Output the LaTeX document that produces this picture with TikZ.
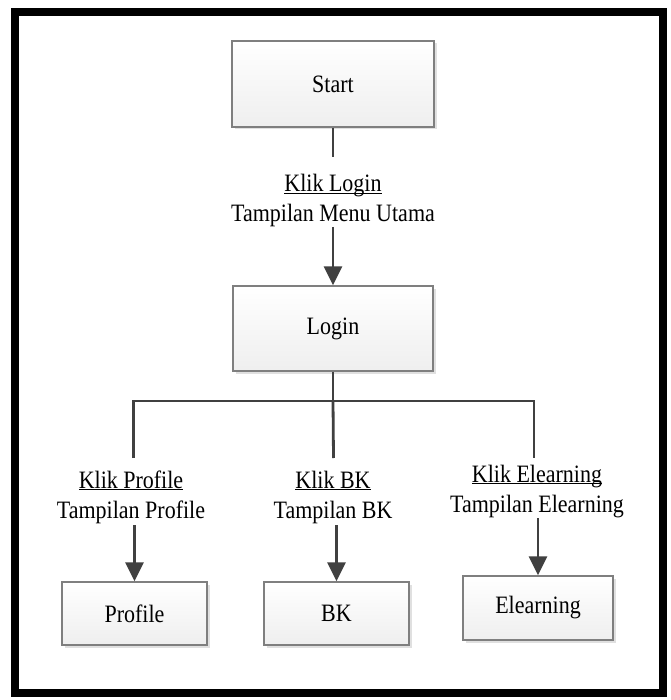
\documentclass[tikz,border=0pt]{standalone}
\usepackage{fontspec}
\setmainfont[FakeStretch=0.88]{Liberation Serif}
\usetikzlibrary{arrows.meta,shadows}
\definecolor{boxgray}{HTML}{7F7F7F}
\definecolor{linegray}{HTML}{404040}
\newcommand\klik[1]{\underline{\smash{#1}}}
\begin{document}
\begin{tikzpicture}[x=1pt,y=-1pt,
  box/.style={draw=boxgray, line width=1.3pt, top color=white, bottom color=gray!13,
    drop shadow={shadow xshift=2.5pt, shadow yshift=-2.5pt, fill=gray!40, opacity=0.6},
    inner sep=0pt, font=\fontsize{25}{30}\selectfont},
  lbl/.style={anchor=base, inner sep=0pt, font=\fontsize{25}{30}\selectfont},
  conn/.style={draw=linegray, line width=2.8pt},
  arr/.style={conn, -{Triangle[width=18pt,length=19pt]}},
  frame/.style={draw=black, line width=8pt}]
\useasboundingbox (0,0) rectangle (670,700);
\fill[white] (0,0) rectangle (670,700);
\draw[frame] (15,12) rectangle (663,693);

% boxes
\node[box, minimum width=202pt, minimum height=86pt] (start) at (333,84) {Start};
\node[box, minimum width=200pt, minimum height=85pt] (login) at (333,328.5) {Login};
\node[box, minimum width=145pt, minimum height=63pt] (profile) at (134.5,613.5) {Profile};
\node[box, minimum width=145pt, minimum height=63pt] (bk) at (336.5,613.5) {BK};
\node[box, minimum width=150pt, minimum height=64pt] (elearn) at (538,608) {Elearning};

% labels
\node[lbl] (kl) at (333,192) {\klik{Klik Login}};
\node[lbl] (tl) at (333,222) {Tampilan Menu Utama};
\node[lbl] (kp) at (131,488) {\klik{Klik Profile}};
\node[lbl] (tp) at (131,518) {Tampilan Profile};
\node[lbl] (kb) at (333,488) {\klik{Klik BK}};
\node[lbl] (tb) at (333,518) {Tampilan BK};
\node[lbl] (ke) at (537,482) {\klik{Klik Elearning}};
\node[lbl] (te) at (537,512) {Tampilan Elearning};

% coordinates
\coordinate (s1) at (333,157);
\coordinate (s2) at (333,227);
\coordinate (bus) at (333,401);
\coordinate (busL) at (133.5,401);
\coordinate (busR) at (534,401);
\coordinate (pL) at (133.5,458);
\coordinate (pC) at (333.5,458);
\coordinate (pR) at (534,458);
\coordinate (aP) at (134.5,525);
\coordinate (aB) at (336.5,525);
\coordinate (aE) at (538,518);

% connectors
\draw[conn] (start.south) -- (s1);
\draw[arr] (s2) -- (login.north);
\draw[conn] (login.south) -- (bus);
\draw[conn] (pL) -- (busL) -- (busR) -- (pR);
\draw[conn] (bus) -- (pC);
\draw[arr] (aP) -- (profile.north);
\draw[arr] (aB) -- (bk.north);
\draw[arr] (aE) -- (elearn.north);
\end{tikzpicture}
\end{document}
